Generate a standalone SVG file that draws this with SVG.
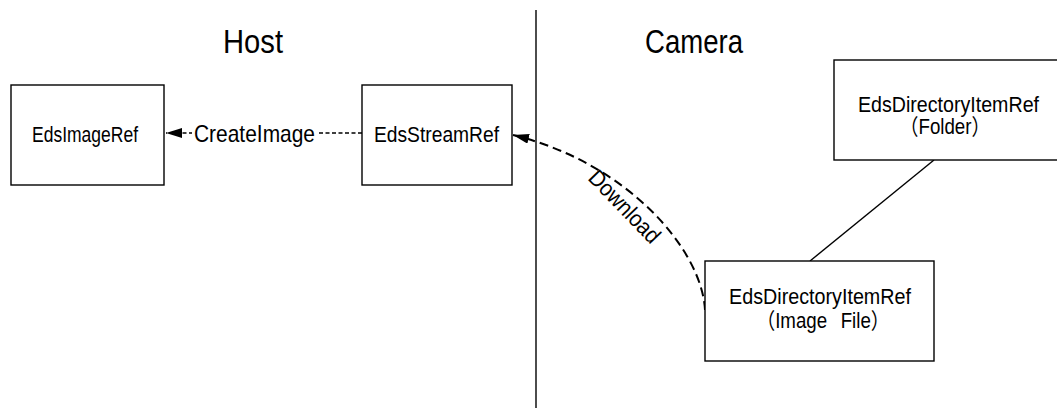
<svg xmlns="http://www.w3.org/2000/svg" width="1057" height="410" viewBox="0 0 1057 410">
<style>
.box{fill:#fff;stroke:#000;stroke-width:1.4}
.t{font-family:"Liberation Sans",Arial,"Noto Sans CJK SC",sans-serif;fill:#000}
.title{font-size:33px}
.n{font-size:22px}
.ln{fill:none;stroke:#000;stroke-width:1.4}
.dash1{fill:none;stroke:#000;stroke-width:1.5;stroke-dasharray:4 2.5}
.dash2{fill:none;stroke:#000;stroke-width:2;stroke-dasharray:9 5}
</style>
<defs>
<marker id="arr" markerUnits="userSpaceOnUse" markerWidth="18" markerHeight="12" refX="16" refY="5" orient="auto">
<path d="M0,0 L16,5 L0,10 z" fill="#000"/>
</marker>
</defs>
<rect width="1057" height="410" fill="#fff"/>
<line class="ln" x1="536" y1="10" x2="536" y2="408"/>
<text class="t title" x="223" y="53" textLength="60" lengthAdjust="spacingAndGlyphs">Host</text>
<text class="t title" x="645" y="53" textLength="98" lengthAdjust="spacingAndGlyphs">Camera</text>
<g id="connectors">
<line class="dash1" x1="362" y1="133" x2="166" y2="133" marker-end="url(#arr)"/>
<rect x="192" y="116" width="125" height="30" fill="#fff"/>
<text class="t" style="font-size:24px" x="194" y="142" textLength="121" lengthAdjust="spacingAndGlyphs">CreateImage</text>
<path class="dash2" d="M705,310 C702,250 628,163 513,135" marker-end="url(#arr)"/>
<text class="t" style="font-size:23px" text-anchor="middle" transform="translate(619,212) rotate(46) scale(0.9,1)">Download</text>
<line class="ln" x1="934" y1="160" x2="810" y2="261"/>
</g>
<g id="EdsImageRef">
<rect class="box" x="11" y="85" width="153" height="100"/>
<text class="t n" x="32" y="142" textLength="106" lengthAdjust="spacingAndGlyphs">EdsImageRef</text>
</g>
<g id="EdsStreamRef">
<rect class="box" x="362" y="85" width="150" height="100"/>
<text class="t n" x="374" y="142" textLength="125" lengthAdjust="spacingAndGlyphs">EdsStreamRef</text>
</g>
<g id="Folder">
<rect class="box" x="834" y="60" width="229" height="100"/>
<text class="t n" x="858" y="112" textLength="181" lengthAdjust="spacingAndGlyphs">EdsDirectoryItemRef</text>
<text class="t n" text-anchor="middle" transform="translate(945,134) scale(0.85,1)">（Folder）</text>
</g>
<g id="ImageFile">
<rect class="box" x="705" y="261" width="229" height="100"/>
<text class="t n" x="729" y="304" textLength="182" lengthAdjust="spacingAndGlyphs">EdsDirectoryItemRef</text>
<text class="t n" text-anchor="middle" transform="translate(823,328) scale(0.85,1)">（Image<tspan font-size="16">　</tspan>File）</text>
</g>
</svg>
